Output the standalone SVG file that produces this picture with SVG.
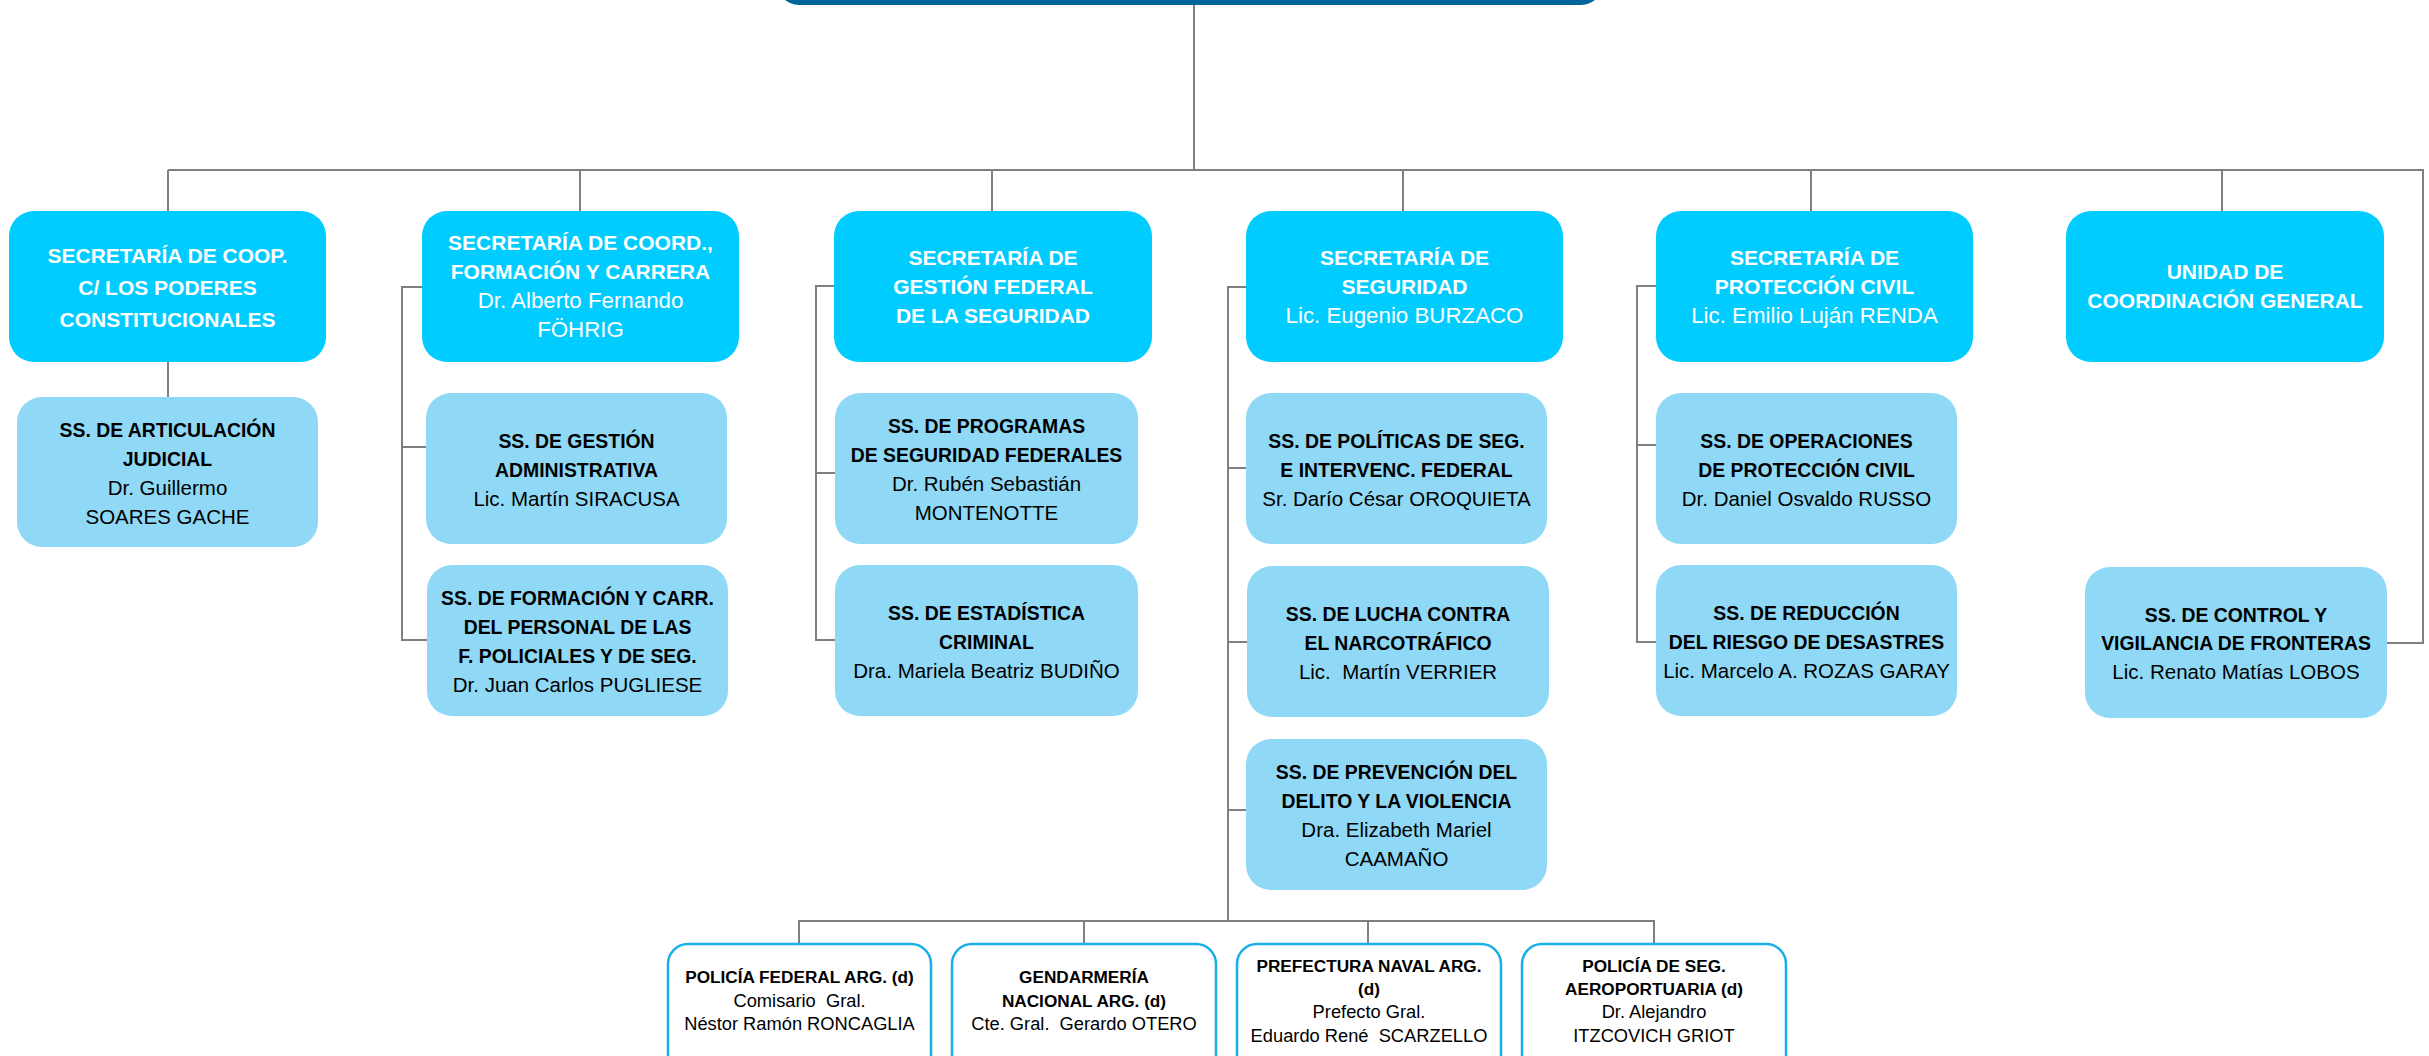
<svg xmlns="http://www.w3.org/2000/svg" width="2429" height="1056" viewBox="0 0 2429 1056">
<style>
.bg{fill:#ffffff}
.root{fill:#006699}
.l1{fill:#00CCFF}
.l2{fill:#8FD9F7}
.l3{fill:#ffffff;stroke:#1AAFE8;stroke-width:2.5}
.cn{fill:none;stroke:#808080;stroke-width:2}
text{font-family:"Liberation Sans",Arial,sans-serif;text-anchor:middle}
.w{fill:#ffffff}
.k{fill:#000000}
.hb{font-weight:bold;font-size:21px}
.hr{font-size:22.3px}
.sb{font-weight:bold;font-size:19.4px}
.sr{font-size:20.5px}
.bb{font-weight:bold;font-size:17.2px}
.br{font-size:18.3px}
</style>
<rect class="bg" x="0" y="0" width="2429" height="1056"/>
<g id="connectors">
<path class="cn" d="M1194 5V170M168 170H2423V643H2387"/>
<path class="cn" d="M168 170V211M580 170V211M992 170V211M1403 170V211M1811 170V211M2222 170V211"/>
<path class="cn" d="M168 362V397"/>
<path class="cn" d="M422 287H402V640H427M402 447H426"/>
<path class="cn" d="M834 286H816V640H835M816 473H835"/>
<path class="cn" d="M1246 287H1228V921M1228 468H1246M1228 642H1247M1228 810H1246"/>
<path class="cn" d="M1656 286H1637V642H1656M1637 445H1656"/>
<path class="cn" d="M799 944V921H1654V944M1084 921V944M1368 921V944"/>
</g>
<g id="root"><rect class="root" x="777" y="-40" width="826" height="45" rx="22"/></g>
<g id="sec-coop">
<rect class="l1" x="9" y="211" width="317" height="151" rx="25"/>
<text class="w hb" x="167.5" y="263">SECRETARÍA DE COOP.</text>
<text class="w hb" x="167.5" y="295">C/ LOS PODERES</text>
<text class="w hb" x="167.5" y="327">CONSTITUCIONALES</text>
</g>
<g id="sec-coord">
<rect class="l1" x="422" y="211" width="317" height="151" rx="25"/>
<text class="w hb" x="580.5" y="250">SECRETARÍA DE COORD.,</text>
<text class="w hb" x="580.5" y="279">FORMACIÓN Y CARRERA</text>
<text class="w hr" x="580.5" y="308">Dr. Alberto Fernando</text>
<text class="w hr" x="580.5" y="337">FÖHRIG</text>
</g>
<g id="sec-gestion">
<rect class="l1" x="834" y="211" width="318" height="151" rx="25"/>
<text class="w hb" x="993" y="265">SECRETARÍA DE</text>
<text class="w hb" x="993" y="294">GESTIÓN FEDERAL</text>
<text class="w hb" x="993" y="323">DE LA SEGURIDAD</text>
</g>
<g id="sec-seguridad">
<rect class="l1" x="1246" y="211" width="317" height="151" rx="25"/>
<text class="w hb" x="1404.5" y="265">SECRETARÍA DE</text>
<text class="w hb" x="1404.5" y="294">SEGURIDAD</text>
<text class="w hr" x="1404.5" y="323">Lic. Eugenio BURZACO</text>
</g>
<g id="sec-proteccion">
<rect class="l1" x="1656" y="211" width="317" height="151" rx="25"/>
<text class="w hb" x="1814.5" y="265">SECRETARÍA DE</text>
<text class="w hb" x="1814.5" y="294">PROTECCIÓN CIVIL</text>
<text class="w hr" x="1814.5" y="323">Lic. Emilio Luján RENDA</text>
</g>
<g id="unidad">
<rect class="l1" x="2066" y="211" width="318" height="151" rx="25"/>
<text class="w hb" x="2225" y="279">UNIDAD DE</text>
<text class="w hb" x="2225" y="308">COORDINACIÓN GENERAL</text>
</g>
<g id="ss-articulacion">
<rect class="l2" x="17" y="397" width="301" height="150" rx="25"/>
<text class="k sb" x="167.5" y="437">SS. DE ARTICULACIÓN</text>
<text class="k sb" x="167.5" y="466">JUDICIAL</text>
<text class="k sr" x="167.5" y="495">Dr. Guillermo</text>
<text class="k sr" x="167.5" y="524">SOARES GACHE</text>
</g>
<g id="ss-gestion-adm">
<rect class="l2" x="426" y="393" width="301" height="151" rx="25"/>
<text class="k sb" x="576.5" y="448">SS. DE GESTIÓN</text>
<text class="k sb" x="576.5" y="477">ADMINISTRATIVA</text>
<text class="k sr" x="576.5" y="506">Lic. Martín SIRACUSA</text>
</g>
<g id="ss-formacion">
<rect class="l2" x="427" y="565" width="301" height="151" rx="25"/>
<text class="k sb" x="577.5" y="605">SS. DE FORMACIÓN Y CARR.</text>
<text class="k sb" x="577.5" y="634">DEL PERSONAL DE LAS</text>
<text class="k sb" x="577.5" y="663">F. POLICIALES Y DE SEG.</text>
<text class="k sr" x="577.5" y="692">Dr. Juan Carlos PUGLIESE</text>
</g>
<g id="ss-programas">
<rect class="l2" x="835" y="393" width="303" height="151" rx="25"/>
<text class="k sb" x="986.5" y="433">SS. DE PROGRAMAS</text>
<text class="k sb" x="986.5" y="462">DE SEGURIDAD FEDERALES</text>
<text class="k sr" x="986.5" y="491">Dr. Rubén Sebastián</text>
<text class="k sr" x="986.5" y="520">MONTENOTTE</text>
</g>
<g id="ss-estadistica">
<rect class="l2" x="835" y="565" width="303" height="151" rx="25"/>
<text class="k sb" x="986.5" y="620">SS. DE ESTADÍSTICA</text>
<text class="k sb" x="986.5" y="649">CRIMINAL</text>
<text class="k sr" x="986.5" y="678">Dra. Mariela Beatriz BUDIÑO</text>
</g>
<g id="ss-politicas">
<rect class="l2" x="1246" y="393" width="301" height="151" rx="25"/>
<text class="k sb" x="1396.5" y="448">SS. DE POLÍTICAS DE SEG.</text>
<text class="k sb" x="1396.5" y="477">E INTERVENC. FEDERAL</text>
<text class="k sr" x="1396.5" y="506">Sr. Darío César OROQUIETA</text>
</g>
<g id="ss-lucha">
<rect class="l2" x="1247" y="566" width="302" height="151" rx="25"/>
<text class="k sb" x="1398" y="621">SS. DE LUCHA CONTRA</text>
<text class="k sb" x="1398" y="650">EL NARCOTRÁFICO</text>
<text class="k sr" x="1398" y="679" xml:space="preserve">Lic.  Martín VERRIER</text>
</g>
<g id="ss-prevencion">
<rect class="l2" x="1246" y="739" width="301" height="151" rx="25"/>
<text class="k sb" x="1396.5" y="779">SS. DE PREVENCIÓN DEL</text>
<text class="k sb" x="1396.5" y="808">DELITO Y LA VIOLENCIA</text>
<text class="k sr" x="1396.5" y="837">Dra. Elizabeth Mariel</text>
<text class="k sr" x="1396.5" y="866">CAAMAÑO</text>
</g>
<g id="ss-operaciones">
<rect class="l2" x="1656" y="393" width="301" height="151" rx="25"/>
<text class="k sb" x="1806.5" y="448">SS. DE OPERACIONES</text>
<text class="k sb" x="1806.5" y="477">DE PROTECCIÓN CIVIL</text>
<text class="k sr" x="1806.5" y="506">Dr. Daniel Osvaldo RUSSO</text>
</g>
<g id="ss-reduccion">
<rect class="l2" x="1656" y="565" width="301" height="151" rx="25"/>
<text class="k sb" x="1806.5" y="620">SS. DE REDUCCIÓN</text>
<text class="k sb" x="1806.5" y="649">DEL RIESGO DE DESASTRES</text>
<text class="k sr" x="1806.5" y="678">Lic. Marcelo A. ROZAS GARAY</text>
</g>
<g id="ss-control">
<rect class="l2" x="2085" y="567" width="302" height="151" rx="25"/>
<text class="k sb" x="2236" y="622">SS. DE CONTROL Y</text>
<text class="k sb" x="2236" y="650">VIGILANCIA DE FRONTERAS</text>
<text class="k sr" x="2236" y="679">Lic. Renato Matías LOBOS</text>
</g>
<g id="pfa">
<rect class="l3" x="668" y="944" width="263" height="150" rx="20"/>
<text class="k bb" x="799.5" y="983">POLICÍA FEDERAL ARG. (d)</text>
<text class="k br" x="799.5" y="1007" xml:space="preserve">Comisario  Gral.</text>
<text class="k br" x="799.5" y="1030">Néstor Ramón RONCAGLIA</text>
</g>
<g id="gna">
<rect class="l3" x="952" y="944" width="264" height="150" rx="20"/>
<text class="k bb" x="1084" y="983">GENDARMERÍA</text>
<text class="k bb" x="1084" y="1007">NACIONAL ARG. (d)</text>
<text class="k br" x="1084" y="1030" xml:space="preserve">Cte. Gral.  Gerardo OTERO</text>
</g>
<g id="pna">
<rect class="l3" x="1237" y="944" width="264" height="150" rx="20"/>
<text class="k bb" x="1369" y="972">PREFECTURA NAVAL ARG.</text>
<text class="k bb" x="1369" y="995">(d)</text>
<text class="k br" x="1369" y="1018">Prefecto Gral.</text>
<text class="k br" x="1369" y="1042" xml:space="preserve">Eduardo René  SCARZELLO</text>
</g>
<g id="psa">
<rect class="l3" x="1522" y="944" width="264" height="150" rx="20"/>
<text class="k bb" x="1654" y="972">POLICÍA DE SEG.</text>
<text class="k bb" x="1654" y="995">AEROPORTUARIA (d)</text>
<text class="k br" x="1654" y="1018">Dr. Alejandro</text>
<text class="k br" x="1654" y="1042">ITZCOVICH GRIOT</text>
</g>
</svg>
